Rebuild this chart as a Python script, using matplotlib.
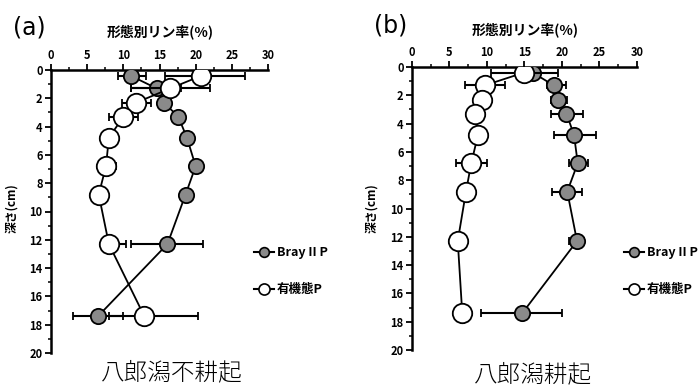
import numpy as np
import matplotlib
matplotlib.use('Agg')
import matplotlib.pyplot as plt
from matplotlib.ticker import MultipleLocator
from matplotlib.lines import Line2D

plt.rcParams['font.family'] = ['Noto Sans CJK JP', 'DejaVu Sans']

# depth (cm)
depth = [0.4, 1.3, 2.3, 3.3, 4.8, 6.8, 8.8, 12.3, 17.4]

# (a) 八郎潟不耕起
a_bray = [11.0, 14.6, 15.6, 17.6, 18.8, 20.0, 18.6, 16.1, 6.5]
a_bray_lo = [9.2, 11.0, 15.0, 17.2, 18.4, 19.6, 18.2, 11.0, 3.0]
a_bray_hi = [13.1, 18.0, 16.2, 18.0, 19.2, 20.4, 19.0, 21.0, 10.0]
a_org = [20.8, 16.5, 11.8, 10.0, 8.0, 7.6, 6.6, 8.0, 12.9]
a_org_lo = [15.7, 11.0, 9.8, 8.0, 7.0, 6.5, 6.2, 7.0, 8.0]
a_org_hi = [26.8, 22.0, 13.8, 12.0, 9.0, 9.0, 7.0, 10.3, 20.3]

# (b) 八郎潟耕起
b_bray = [16.1, 18.9, 19.5, 20.6, 21.6, 22.1, 20.7, 22.0, 14.7]
b_bray_lo = [15.8, 18.0, 18.5, 18.5, 19.0, 21.0, 18.7, 21.0, 9.2]
b_bray_hi = [16.4, 20.5, 20.7, 22.8, 24.5, 23.5, 22.7, 23.0, 20.0]
b_org = [14.9, 9.7, 9.3, 8.4, 8.8, 7.9, 7.2, 6.1, 6.7]
b_org_lo = [10.5, 7.1, 9.0, 8.1, 8.5, 5.9, 6.9, 5.8, 6.4]
b_org_hi = [19.5, 12.4, 9.6, 8.7, 9.1, 10.0, 7.5, 6.4, 7.5]

xticks = [0, 5, 10, 15, 20, 25, 30]
yticks = [0, 2, 4, 6, 8, 10, 12, 14, 16, 18, 20]

fig = plt.figure(figsize=(6.99, 3.9), dpi=100)
W, H = 699, 390


def px_axes(l, t, r, b):
    return fig.add_axes([l / W, 1 - b / H, (r - l) / W, (b - t) / H])


def draw_panel(ax, bray, blo, bhi, org, olo, ohi):
    bray = np.array(bray); org = np.array(org)
    berr = [bray - np.array(blo), np.array(bhi) - bray]
    oerr = [org - np.array(olo), np.array(ohi) - org]
    ax.errorbar(bray, depth, xerr=berr, color='black', lw=1.3, capsize=3,
                elinewidth=1.5, capthick=1.5, marker='o', ms=11,
                mfc='#8a8a8a', mec='black', mew=1.3, zorder=3)
    ax.errorbar(org, depth, xerr=oerr, color='black', lw=1.3, capsize=3,
                elinewidth=1.5, capthick=1.5, marker='o', ms=14,
                mfc='white', mec='black', mew=1.3, zorder=4)
    ax.set_xlim(0, 30)
    ax.set_ylim(20, 0)
    ax.spines['right'].set_visible(False)
    ax.spines['bottom'].set_visible(False)
    ax.spines['top'].set_linewidth(1.8)
    ax.spines['left'].set_linewidth(1.8)
    ax.xaxis.tick_top()
    ax.set_xticks(xticks)
    ax.set_yticks(yticks)
    ax.xaxis.set_minor_locator(MultipleLocator(2.5))
    ax.yaxis.set_minor_locator(MultipleLocator(1))
    ax.tick_params(which='major', length=4, width=1.3, labelsize=8, pad=2)
    ax.tick_params(which='minor', length=2.5, width=1.1)
    for lab in ax.get_xticklabels() + ax.get_yticklabels():
        lab.set_fontweight('bold')
    ax.patch.set_alpha(0)


ax1 = px_axes(51, 70, 268, 353)
draw_panel(ax1, a_bray, a_bray_lo, a_bray_hi, a_org, a_org_lo, a_org_hi)
ax2 = px_axes(412, 67, 637, 350)
draw_panel(ax2, b_bray, b_bray_lo, b_bray_hi, b_org, b_org_lo, b_org_hi)

handles = [Line2D([], [], color='black', lw=1.5, marker='o', ms=7,
                  mfc='#8a8a8a', mec='black', mew=1.2),
           Line2D([], [], color='black', lw=1.5, marker='o', ms=8,
                  mfc='white', mec='black', mew=1.2)]
labels = ['Bray II P', '有機態P']

for lx in [243 / W, 613 / W]:
    leg = fig.legend(handles, labels, loc='upper left',
                     bbox_to_anchor=(lx, 1 - 235 / H), frameon=False,
                     handlelength=1.6, handletextpad=0.2,
                     labelspacing=1.9, fontsize=9)
    for t in leg.get_texts():
        t.set_fontweight('bold')

for x, y, s in [(13 / W, 1 - 28 / H, '(a)'), (374 / W, 1 - 25 / H, '(b)')]:
    fig.text(x, y, s, fontsize=17, va='center', ha='left', family='DejaVu Sans')

for x, y in [(160 / W, 1 - 32 / H), (525 / W, 1 - 30 / H)]:
    fig.text(x, y, '形態別リン率(%)', fontsize=10, fontweight='bold',
             ha='center', va='center')

for x, y in [(12 / W, 1 - 208 / H), (372 / W, 1 - 208 / H)]:
    fig.text(x, y, '深さ(cm)', fontsize=8.5, fontweight='bold', rotation=90,
             ha='center', va='center')

fig.text(172 / W, 1 - 373 / H, '八郎潟不耕起', fontsize=17, ha='center',
         va='center', fontweight='light')
fig.text(533 / W, 1 - 375 / H, '八郎潟耕起', fontsize=17, ha='center',
         va='center', fontweight='light')

fig.savefig('out.png', dpi=100)
